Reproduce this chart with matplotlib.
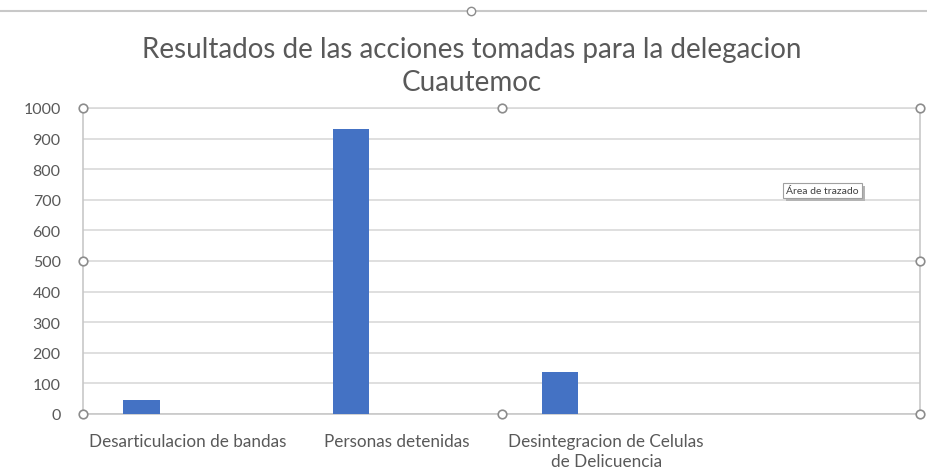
import matplotlib
matplotlib.use('Agg')
import matplotlib.pyplot as plt
from matplotlib.patches import Rectangle
import numpy as np

plt.rcParams['font.family'] = ['Lato', 'DejaVu Sans']

# Datos del grafico
categorias = ['Desarticulacion de bandas', 'Personas detenidas',
              'Desintegracion de Celulas\nde Delicuencia', '']
valores = [45, 930, 137, 0]
titulo = 'Resultados de las acciones tomadas para la delegacion\nCuautemoc'
y_ticks = list(range(0, 1001, 100))

color_barra = '#4472c4'
gris_texto = '#595959'
gris_linea = '#d9d9d9'

fig = plt.figure(figsize=(9.27, 4.77), dpi=100)
ax = fig.add_axes([0.0895, 0.130, 0.9030, 0.6415])

x = np.arange(len(categorias))
ax.bar(x[:3] - 0.22, valores[:3], width=0.175, color=color_barra, zorder=3)

ax.set_xlim(-0.5, len(categorias) - 0.5)
ax.set_ylim(0, 1000)
ax.set_yticks(y_ticks)
ax.set_yticklabels([str(t) for t in y_ticks], fontsize=11.5, color=gris_texto)
ax.set_xticks(x)
ax.set_xticklabels(categorias, fontsize=12.3, color=gris_texto, linespacing=1.3)
ax.tick_params(axis='y', length=0, pad=16)
ax.tick_params(axis='x', length=0, pad=14)

ax.grid(axis='y', color=gris_linea, linewidth=1.2, zorder=0)
for lado in ['top', 'bottom', 'left', 'right']:
    ax.spines[lado].set_color('#c8c8c8')
    ax.spines[lado].set_linewidth(1.2)
ax.spines['top'].set_color(gris_linea)

# Manijas de seleccion del area de trazado
manijas_x = [0, 0.5, 1, 0, 1, 0, 0.5, 1]
manijas_y = [1, 1, 1, 0.5, 0.5, 0, 0, 0]
ax.scatter(manijas_x, manijas_y, s=38, facecolor='white', edgecolor='#8c8c8c',
           linewidth=1.2, transform=ax.transAxes, clip_on=False, zorder=5)

# Borde superior del area del grafico con su manija
fig.add_artist(plt.Line2D([0, 1], [0.975, 0.975], color='#c8c8c8', linewidth=1.5))
fig.add_artist(plt.Line2D([0.508], [0.975], marker='o', markersize=6,
                          markerfacecolor='white', markeredgecolor='#8c8c8c'))

fig.text(0.509, 0.860, titulo, ha='center', va='center', fontsize=20,
         color=gris_texto, linespacing=1.35)

# Etiqueta emergente con sombra
etiqueta = fig.text(0.8480, 0.598, 'Área de trazado', ha='left', va='center',
                    fontsize=7.5, color='#404040', zorder=5,
                    bbox=dict(boxstyle='square,pad=0.3', facecolor='white',
                              edgecolor='#a0a0a0', linewidth=0.8))
fig.canvas.draw()
caja = etiqueta.get_bbox_patch().get_window_extent()
w_fig, h_fig = fig.bbox.width, fig.bbox.height
fig.add_artist(Rectangle(((caja.x0 + 3) / w_fig, (caja.y0 - 3) / h_fig),
                         caja.width / w_fig, caja.height / h_fig,
                         transform=fig.transFigure, facecolor='#b4b4b4',
                         edgecolor='none', zorder=4))

fig.savefig('out.png', dpi=100)
